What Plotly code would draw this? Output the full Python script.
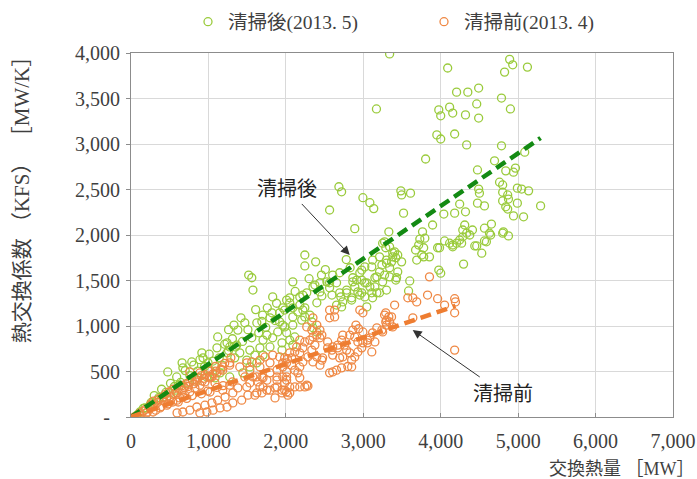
import plotly.graph_objects as go

# ---- data ----
after_points = [  # 清掃後 (2013.5): (交換熱量 MW, KFS MW/K)
    (3340,3990),(3170,3385),(4090,3835),(4890,3930),(4930,3870),(4825,3790),(5120,3845),(4205,3570),(4350,3570),
    (4490,3615),(4465,3440),(4785,3505),(4900,3385),(3975,3375),(4000,3310),(4115,3405),(4155,3340),(4320,3320),
    (4490,3285),(3950,3100),(4000,3055),(4180,3110),(4335,2990),(4785,2980),(3805,2835),(5085,2910),
    (4475,2715),(4840,2705),(4940,2690),(4965,2735),(4695,2815),(4490,2505),(4500,2460),(4800,2470),(4760,2580),
    (4800,2550),(4990,2515),(5045,2505),(5135,2485),(4865,2440),(4875,2395),(4990,2350),(4800,2375),(4840,2310),
    (4865,2285),(4940,2210),(5070,2200),(5290,2320),(4475,2350),(4565,2320),(4245,2340),(4320,2255),(4180,2240),
    (4040,2230),(3520,2240),(3485,2485),(3495,2440),(3610,2460),(3895,2110),(4310,2110),(4285,2055),(4410,2055),
    (4565,2075),(4655,2120),(4810,2035),(4875,1990),(3765,2035),(3330,2035),
    (3730,1955),(4285,1980),(4335,2020),(4245,1945),(4205,1910),(4155,1890),(4115,1910),(4050,1935),(4155,1870),
    (4270,1910),(4375,2000),(4645,2000),(4565,1935),(4440,1880),(4530,1800),(3985,1860),(3780,1860),(3780,1760),
    (3855,1760),(3795,1965),(3250,1910),(3290,1860),(3340,1870),(3405,1815),(3380,1760),(3445,1780),(3495,1705),
    (3240,1670),(3300,1690),(3365,1705),(3210,1595),(3275,1560),(3340,1540),(3250,1485),(3420,1505),(3600,1495),
    (3690,1725),(3755,1780),(3675,1835),(3715,1890),(3975,1615),(4000,1580),(3960,1860),(4465,1880),(4590,1925),
    (4295,1680),(4630,2020),(4800,2020),(3585,1385),
    (2245,1780),(2385,1705),(2245,1660),(2090,1485),(2695,1585),(2605,1560),(2565,1475),(2655,1475),(2440,1475),
    (2350,1430),(2440,1375),(2270,1365),(2220,1340),(2565,1420),(2595,1340),(2785,1365),(2710,1320),(2735,1265),
    (2850,1285),(2865,1530),(2865,1485),(2955,1585),(2980,1505),(2930,1375),(2955,1340),(3020,1320),(3110,1365),
    (3175,1365),(3150,1430),(3085,1430),(3045,1475),(2980,1615),(3020,1650),(3110,1650),(3120,1725),(3210,1760),
    (3300,1725),(3380,1805),(3420,1750),(3340,1640),(3430,1530),(3175,1540),
    (2010,1285),(2050,1255),(2090,1200),(2180,1230),(1960,1200),(2155,1155),(2245,1200),(2245,1100),(2090,1100),
    (2205,1065),(1920,1045),(1985,990),(2090,1010),(2335,1045),(2350,980),(2400,935),(2010,925),(2115,880),
    (2050,845),(1950,815),(2090,790),(1950,735),
    (2685,2530),(2720,2475),(2995,2410),(3085,2355),(3135,2290),(2565,2275),(2890,2070),(3275,1925),(1520,1560),
    (1560,1530),(1575,1395),(1830,1320),(2375,1450),(2530,1485),(2915,1505),(3445,1595),(3150,1530),(3020,1475),
    (2890,1430),(2785,1395),(2695,1365),(2465,1330),(2400,1255),(2180,1320),(2050,1310),(1920,1145),(1820,1145),
    (1795,1090),(1985,1175),(2220,1175),(2310,1120),(2655,1230),(2720,1210),(2850,1310),(2980,1365),(3045,1210),
    (3120,1310),(3210,1365),(3300,1395),
    (475,495),(660,595),(670,540),(785,605),(915,705),(930,650),(995,595),(1020,515),(1175,570),(1240,705),
    (1275,770),(1365,790),(1340,650),(1405,705),(1470,1035),(1380,955),(1625,1035),(1535,735),(1495,625),
    (1600,680),(1705,845),(1665,760),(1755,900),(1830,870),(1895,935),(1960,1010),(1795,770),(1705,680),
    (1625,595),(1535,550),(1445,485),(1275,440),(1150,485),(1085,430),(980,440),(850,405),(735,375),(630,350),
    (570,295),(505,265),(415,220),(335,185),(245,130),(180,100),(115,55),(75,20),(1240,815),
    (160,95),(260,160),(360,215),(450,270),(560,335),(640,380),(760,455),(860,505),(950,555),(1060,615),
    (1140,650),(1260,730),(1350,770),(1440,830),(1560,870),(1650,925),(1740,985),(1860,1060),(1010,690),
    (1110,760),(1210,800),(1310,860),(890,630),(810,570),(700,510),(590,440),(510,370),(395,305),(300,235),
    (1120,880),(1260,960),(1330,1010),(1420,1090),(1700,1120),(1610,1180),(1760,1200),(1880,1250),(1510,960),
    (1690,1050),(2120,1380),(2300,1520),(2510,1620),(2460,1560),(2780,1730),(2830,1640),
]

before_points = [  # 清掃前 (2013.4)
    (3855,1540),(3405,1230),(3830,1340),(3960,1300),(4050,1230),(4180,1300),(4190,1265),(4180,1145),(3640,1310),
    (3690,1265),(3290,1145),(3330,1100),(3290,1045),(3365,1100),(3240,955),(3640,1090),(4180,735),
    (3300,1065),(3340,1045),(3300,1010),(3380,990),(3175,980),(3250,935),(3120,925),(3085,870),(3055,815),
    (2905,1010),(2865,955),(2825,900),(2890,880),(2930,825),(2995,815),(2980,760),(2930,715),(2890,660),
    (2850,625),(2735,900),(2720,845),(2760,790),(2670,760),(2785,735),(2825,705),(2735,660),(2695,650),
    (2595,735),(2605,680),(2540,760),(2475,650),(2465,625),(2400,660),(2350,605),(2440,570),(2850,550),
    (2720,540),(2605,495),(2565,485),
    (2270,990),(2335,955),(2400,900),(2440,870),(2350,880),(2310,845),(2245,825),(2180,845),(2140,770),
    (2115,715),(2180,705),(2050,705),(1985,650),(2010,595),(2075,570),(2115,515),(2155,485),(2180,430),
    (2010,495),(1960,440),(1985,375),(2050,330),(2115,330),(2180,330),(2245,330),(2285,340),(1985,295),
    (2050,265),(2565,1175),(2630,1100),(2565,1090),
    (2630,1175),(2955,1175),(2995,1145),(2940,970),(2995,935),(3275,1120),(3575,1310),(2540,825),(2605,770),
    (2670,790),(3110,715),(3055,845),(3150,825),(2655,515),(2800,555),(2270,350),(2010,275),(1950,295),
    (1860,320),(1755,295),(1690,265),(1600,240),(1510,240),(1665,330),(1885,440),(2010,405),(2180,550),
    (2220,605),(2285,660),(2335,735),(2375,790),(2220,760),(2075,650),(1960,595),(1885,515),(1795,485),
    (1705,430),(1625,440),(1535,515),(1495,595),(1275,595),(1185,550),(1110,485),(1020,430),(955,385),
    (890,350),(825,320),(760,275),(695,240),(630,210),(540,165),(465,130),(375,100),(285,55),(205,45),
    (115,20),(50,5),(2350,1090),(2400,1010),(2440,955),(2465,900),
    (760,495),(890,485),(1045,440),(1185,515),(1275,570),(1405,550),(1470,440),(1575,440),(1690,440),
    (1885,405),(1960,550),(1705,330),(1795,295),(1885,330),(1495,330),(1625,265),(1275,350),(1315,265),
    (1185,295),(1085,375),(1020,275),(670,220),(595,185),(1560,605),(1665,625),(1730,660),(1830,680),
    (1920,660),(1795,595),(1665,550),(2020,640),(2010,440),(1215,220),(1120,185),(1045,155),(955,130),
    (850,110),(760,75),(670,55),(595,45),(1380,320),(1430,185),(1315,155),(1240,110),(1150,100),(1060,75),
    (980,55),(890,45),(1755,405),(1640,385),(1535,375),(1860,210),(1950,265),(2025,240),
    (110,40),(160,65),(190,85),(240,110),(310,125),(340,160),(420,175),(460,205),(510,225),(560,255),
    (590,265),(660,295),(690,325),(740,335),(810,365),(840,385),(920,395),(940,425),(1010,445),(1060,475),
    (1090,505),(1160,525),(210,55),(320,75),(390,115),(480,145),(610,165),(720,205),(790,235),(910,255),
    (990,285),(1110,325),(1190,345),(1310,385),(290,175),(410,215),(490,275),(610,315),(710,365),(790,405),
    (910,455),(1000,505),(1090,555),(1210,590),(1290,650),(260,145),(360,195),(440,245),(540,305),(660,345),
    (760,385),(860,435),(960,465),
]

fit_after_x = [0, 5290]
fit_after_y = [0, 3066]
fit_before_x = [0, 4190]
fit_before_y = [0, 1220]

x_ticks = [0, 1000, 2000, 3000, 4000, 5000, 6000, 7000]
x_ticktext = ["0", "1,000", "2,000", "3,000", "4,000", "5,000", "6,000", "7,000"]
y_ticks = [0, 500, 1000, 1500, 2000, 2500, 3000, 3500, 4000]
y_ticktext = ["-\u00a0\u00a0", "500", "1,000", "1,500", "2,000", "2,500", "3,000", "3,500", "4,000"]

series_names = ["清掃後(2013. 5)", "清掃前(2013. 4)"]

GREEN = "#9acb3c"
ORANGE = "#ef8844"
SERIF = "Liberation Serif, Noto Sans CJK JP"
SANS = "Noto Sans CJK JP"
TXT = "#3f3f3f"

ax_, ay_ = zip(*after_points)
bx_, by_ = zip(*before_points)

fig = go.Figure()
fig.add_trace(go.Scatter(
    x=list(ax_), y=list(ay_), mode="markers", name=series_names[0], legend="legend",
    marker=dict(symbol="circle-open", size=8, color=GREEN, line=dict(width=1.3, color=GREEN)),
))
fig.add_trace(go.Scatter(
    x=list(bx_), y=list(by_), mode="markers", name=series_names[1], legend="legend2",
    marker=dict(symbol="circle-open", size=8, color=ORANGE, line=dict(width=1.3, color=ORANGE)),
))
fig.add_trace(go.Scatter(
    x=fit_after_x, y=fit_after_y, mode="lines", showlegend=False,
    line=dict(color="#138a13", width=4.5, dash="11px,6px"),
))
fig.add_trace(go.Scatter(
    x=fit_before_x, y=fit_before_y, mode="lines", showlegend=False,
    line=dict(color="#ee7d31", width=4.5, dash="11px,6px"),
))

axis_common = dict(showgrid=True, gridcolor="#d9d9d9", gridwidth=1, showline=True,
                   linecolor="#8c8c8c", linewidth=1, mirror=True, zeroline=False, automargin=False,
                   tickfont=dict(family=SERIF, size=20, color=TXT))

legend_common = dict(orientation="h", xref="container", yref="container", xanchor="left",
                     yanchor="middle", bgcolor="rgba(0,0,0,0)", itemwidth=30,
                     font=dict(family=SERIF, size=19.5, color=TXT))

fig.update_layout(
    width=697, height=479,
    margin=dict(l=131, r=24, t=53, b=62, autoexpand=False),
    paper_bgcolor="white", plot_bgcolor="white",
    xaxis=dict(range=[0, 7000], tickmode="array", tickvals=x_ticks, ticktext=x_ticktext,
               ticks="inside", ticklen=4, tickcolor="#8c8c8c", ticklabelstandoff=6, **axis_common),
    yaxis=dict(range=[0, 4000], tickmode="array", tickvals=y_ticks, ticktext=y_ticktext,
               ticks="outside", ticklen=4, tickcolor="#8c8c8c", ticklabelstandoff=2, **axis_common),
    legend=dict(x=188 / 697, y=1 - 22 / 479, **legend_common),
    legend2=dict(x=424 / 697, y=1 - 22 / 479, **legend_common),
    showlegend=True,
    annotations=[
        dict(x=2825, y=1780, ax=2012, ay=2517, xref="x", yref="y", axref="x", ayref="y",
             text="清掃後", font=dict(family=SANS, size=20, color="#222"),
             showarrow=True, arrowhead=2, arrowsize=1.8, arrowwidth=1, arrowcolor="#333", standoff=0),
        dict(x=3638, y=956, ax=4799, ay=264, xref="x", yref="y", axref="x", ayref="y",
             text="清掃前", font=dict(family=SANS, size=20, color="#222"),
             showarrow=True, arrowhead=2, arrowsize=1.8, arrowwidth=1, arrowcolor="#333", standoff=0),
        dict(x=-0.201, y=0.612, xref="paper", yref="paper", textangle=-90, showarrow=False,
             text="熱交換係数 （KFS） ［MW/K］", font=dict(family=SERIF, size=21, color=TXT),
             xanchor="center", yanchor="middle"),
        dict(x=1.045, y=-0.142, xref="paper", yref="paper", showarrow=False,
             text="交換熱量 ［MW］", font=dict(family=SERIF, size=18, color=TXT),
             xanchor="right", yanchor="middle"),
    ],
)

fig.write_html("out.html", config={"displayModeBar": False},
               post_script="document.body.style.margin='0';document.body.style.padding='0';")
